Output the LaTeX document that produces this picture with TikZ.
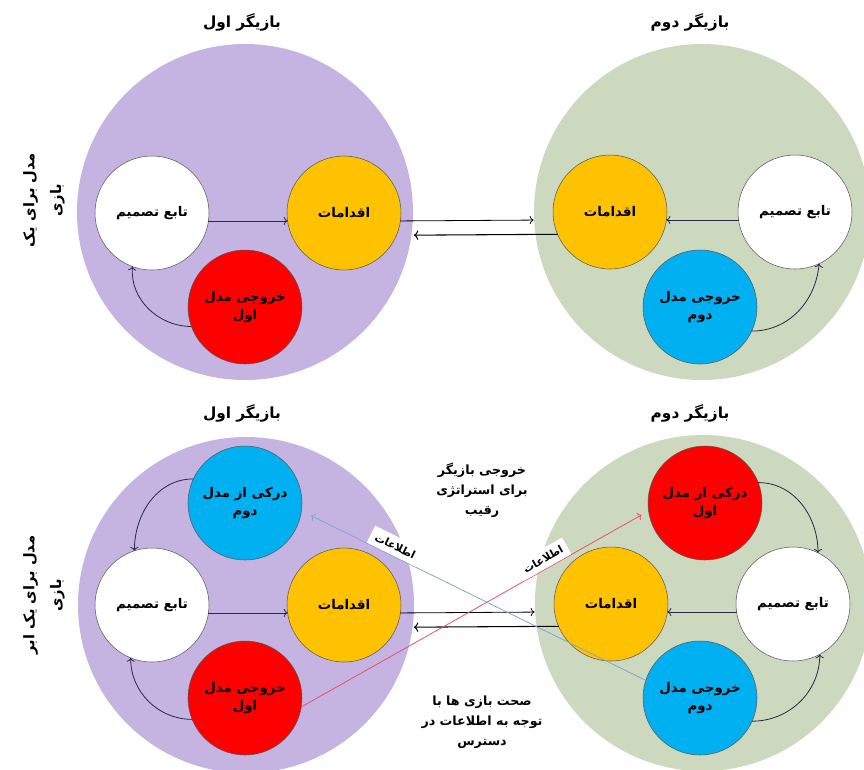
\documentclass[tikz,border=0pt]{standalone}
\usepackage{fontspec}
\usepackage{xcolor}
\definecolor{lilac}{RGB}{197,180,226}
\definecolor{sage}{RGB}{204,217,191}
\definecolor{gold}{RGB}{255,194,0}
\definecolor{scarlet}{RGB}{255,0,0}
\definecolor{sky}{RGB}{0,176,240}
\definecolor{ink}{RGB}{40,40,70}
\definecolor{redline}{RGB}{232,80,110}
\definecolor{blueline}{RGB}{130,165,215}
\usepackage{tikz}
\usetikzlibrary{arrows.meta, positioning}
\newfontfamily\fafont[Script=Arabic]{DejaVu Sans}
\TeXXeTstate=1
\newcommand{\fa}[1]{\beginR #1\endR}

\begin{document}
\begin{tikzpicture}[
        x=0.75pt, y=-0.75pt,
        player/.style={circle, fill=#1, minimum size=252pt, inner sep=0pt},
        part/.style={circle, draw=black!65, fill=#1, minimum size=85.5pt, inner sep=0pt, outer sep=0pt, align=center, font=\fafont\bfseries\normalsize},
        title/.style={font=\fafont\bfseries\fontsize{11.5}{14}\selectfont},
        side/.style={rotate=90, align=center, font=\fafont\bfseries\fontsize{11}{13}\selectfont},
        note/.style={align=center, font=\fafont\bfseries\fontsize{9.5}{12}\selectfont},
        flow/.style={->, ink, semithick},
        infobox/.style={fill=white, text=black, inner sep=4pt, font=\fafont\bfseries\footnotesize}
    ]
        \useasboundingbox (0,0) rectangle (864,769);

        \node[player=lilac] (p1) at (245,212) {};
        \node[player=sage] (p2) at (702,212) {};
        \node[title] (t1) at (242,22) {\fa{بازیگر اول}};
        \node[title] (t2) at (690,22) {\fa{بازیگر دوم}};
        \node[side] (s1) at (44,200) {\fa{مدل برای یک}\\[7pt]\fa{بازی}};

        \node[part=white] (dec1) at (152,213) {\fa{تابع تصمیم}};
        \node[part=gold] (act1) at (344,213) {\fa{اقدامات}};
        \node[part=scarlet] (out1) at (245,307) {\fa{خروجی مدل}\\[2pt]\fa{اول}};
        \node[part=gold] (act2) at (610,212) {\fa{اقدامات}};
        \node[part=white] (dec2) at (795,212) {\fa{تابع تصمیم}};
        \node[part=sky] (out2) at (700,307) {\fa{خروجی مدل}\\[2pt]\fa{دوم}};

        \draw[flow] (dec1.-8) -- (act1.188);
        \draw[flow] (out1.200) to[out=180, in=-95] (dec1.-110);
        \draw[flow] (dec2.188) -- (act2.-8);
        \draw[flow] (out2.-25) to[out=0, in=-95] (dec2.-65);
        \draw[->, semithick, shorten >=15pt] (act1.-8) -- (act2.188);
        \draw[->, thick, shorten >=13pt] (act2.203) -- (act1.-23);

        \node[player=lilac] (p3) at (246,605) {};
        \node[player=sage] (p4) at (703,603) {};
        \node[title] (t3) at (242,413) {\fa{بازیگر اول}};
        \node[title] (t4) at (690,413) {\fa{بازیگر دوم}};
        \node[side] (s2) at (44,595) {\fa{مدل برای یک ابر}\\[7pt]\fa{بازی}};

        \node[part=sky] (mod3) at (245,503) {\fa{درکی از مدل}\\[2pt]\fa{دوم}};
        \node[part=white] (dec3) at (152,605) {\fa{تابع تصمیم}};
        \node[part=gold] (act3) at (344,605) {\fa{اقدامات}};
        \node[part=scarlet] (out3) at (245,698) {\fa{خروجی مدل}\\[2pt]\fa{اول}};
        \node[part=scarlet] (mod4) at (705,503) {\fa{درکی از مدل}\\[2pt]\fa{اول}};
        \node[part=white] (dec4) at (793,604) {\fa{تابع تصمیم}};
        \node[part=gold] (act4) at (611,604) {\fa{اقدامات}};
        \node[part=sky] (out4) at (700,698) {\fa{خروجی مدل}\\[2pt]\fa{دوم}};

        \draw[flow] (dec3.-8) -- (act3.188);
        \draw[flow] (mod3.155) to[out=180, in=90] (dec3.108);
        \draw[flow] (out3.202) to[out=180, in=-90] (dec3.-112);
        \draw[flow] (dec4.188) -- (act4.-8);
        \draw[flow] (mod4.21) to[out=0, in=90] (dec4.64);
        \draw[flow] (out4.-24) to[out=0, in=-90] (dec4.-62);
        \draw[->, semithick, shorten >=15pt] (act3.-8) -- (act4.188);
        \draw[->, thick, shorten >=13pt] (act4.203) -- (act3.-23);

        \draw[->, semithick, redline, shorten >=6pt] (out3.-9) -- node[pos=0.71, above, sloped, infobox] {\fa{اطلاعات}} (mod4.188);
        \draw[->, semithick, blueline, shorten >=8pt] (out4.162) -- node[pos=0.74, above, sloped, infobox] {\fa{اطلاعات}} (mod3.-8);

        \node[note] (n1) at (482,490) {\fa{خروجی بازیگر}\\[3pt]\fa{برای استراتژی}\\[3pt]\fa{رقیب}};
        \node[note] (n2) at (482,722) {\fa{صحت بازی ها با}\\[3pt]\fa{توجه به اطلاعات در}\\[3pt]\fa{دسترس}};
    \end{tikzpicture}
\end{document}
